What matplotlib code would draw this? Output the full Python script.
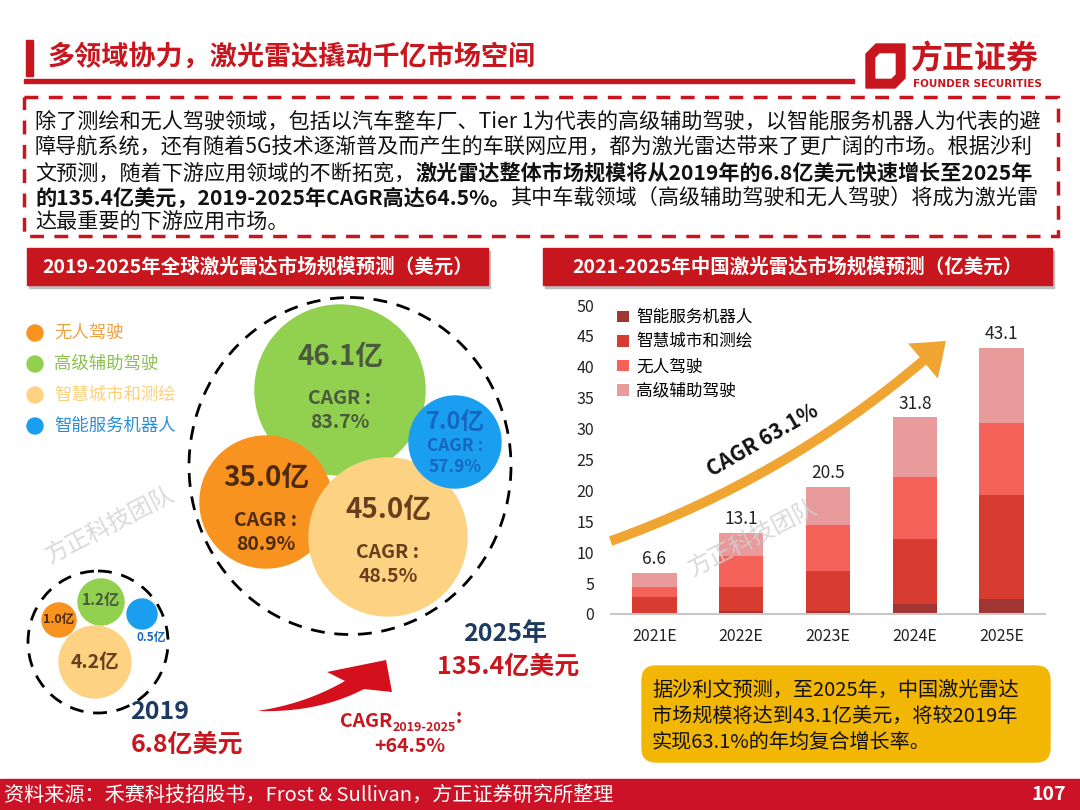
import matplotlib
matplotlib.use('Agg')
import matplotlib.pyplot as plt
from matplotlib.patches import Rectangle, Circle, Ellipse, FancyBboxPatch, FancyArrowPatch, Polygon
import numpy as np

plt.rcParams['font.family'] = ['Noto Sans CJK SC', 'DejaVu Sans']

# 数据
years = ['2021E', '2022E', '2023E', '2024E', '2025E']
robot = [0.1, 0.5, 0.55, 1.6, 2.4]      # 智能服务机器人
city = [2.6, 3.9, 6.45, 10.6, 16.9]     # 智慧城市和测绘
auto = [1.6, 5.0, 7.4, 10.0, 11.6]      # 无人驾驶
adas = [2.3, 3.7, 6.1, 9.6, 12.2]       # 高级辅助驾驶
totals = [6.6, 13.1, 20.5, 31.8, 43.1]
series_names = ['智能服务机器人', '智慧城市和测绘', '无人驾驶', '高级辅助驾驶']
series_colors = ['#a03533', '#d83b2f', '#f4625a', '#e99a9a']

seg_names = ['无人驾驶', '高级辅助驾驶', '智慧城市和测绘', '智能服务机器人']
seg_2025 = ['35.0亿', '46.1亿', '45.0亿', '7.0亿']
seg_cagr = ['80.9%', '83.7%', '48.5%', '57.9%']
seg_2019 = ['1.0亿', '1.2亿', '4.2亿', '0.5亿']

RED = '#c8161e'
NAVY = '#1f3a5f'

fig = plt.figure(figsize=(10.8, 8.1), dpi=100)
bg = fig.add_axes([0, 0, 1, 1])
bg.set_xlim(0, 1080)
bg.set_ylim(810, 0)
bg.axis('off')

# ---- 标题 ----
bg.add_patch(Rectangle((26, 40), 7, 36, color=RED))
bg.text(48, 57, '多领域协力，激光雷达撬动千亿市场空间', color=RED, fontsize=19.5,
        fontweight='bold', va='center', ha='left')
bg.add_patch(Rectangle((24, 79), 830, 4, color=RED))

# logo
bg.add_patch(Polygon([(866, 54), (876, 44), (905, 44), (905, 78), (895, 88), (866, 88)],
                     closed=True, color=RED))
bg.add_patch(Polygon([(876, 58), (880, 54), (895, 54), (895, 74), (891, 78), (876, 78)],
                     closed=True, color='white'))
bg.text(911, 60, '方正证券', color=RED, fontsize=23, fontweight='bold', va='center', ha='left')
bg.text(913, 84, 'FOUNDER SECURITIES', color=RED, fontsize=7.5, fontweight='bold',
        va='center', ha='left', family=['DejaVu Sans'])

# ---- 文字框 ----
bg.add_patch(Rectangle((24, 97), 1034, 139, fill=False, edgecolor=RED, lw=2.5,
                       linestyle=(0, (4, 3))))


def put_line(x, y, segs, size=15.2, color='#111111'):
    t = bg.text(x, y, segs[0][0], fontsize=size, color=color, va='bottom', ha='left',
                fontweight='bold' if segs[0][1] else 'normal')
    for s, b in segs[1:]:
        t = bg.annotate(s, xy=(1, 0), xycoords=t, fontsize=size, color=color,
                        va='bottom', ha='left', fontweight='bold' if b else 'normal')
    return t


lines = [
    [('除了测绘和无人驾驶领域，包括以汽车整车厂、Tier 1为代表的高级辅助驾驶，以智能服务机器人为代表的避', False)],
    [('障导航系统，还有随着5G技术逐渐普及而产生的车联网应用，都为激光雷达带来了更广阔的市场。根据沙利', False)],
    [('文预测，随着下游应用领域的不断拓宽，', False),
     ('激光雷达整体市场规模将从2019年的6.8亿美元快速增长至2025年', True)],
    [('的135.4亿美元，2019-2025年CAGR高达64.5%。', True),
     ('其中车载领域（高级辅助驾驶和无人驾驶）将成为激光雷', False)],
    [('达最重要的下游应用市场。', False)],
]
for i, segs in enumerate(lines):
    put_line(35, 134 + i * 25, segs)

# ---- 小标题 ----
for x0, w, txt in [(27, 461, '2019-2025年全球激光雷达市场规模预测（美元）'),
                   (543, 509, '2021-2025年中国激光雷达市场规模预测（亿美元）')]:
    bg.add_patch(Rectangle((x0 + 2, 251), w, 37, color='#bdbdbd'))
    bg.add_patch(Rectangle((x0, 248), w, 37, color=RED))
    bg.text(x0 + w / 2, 267, txt, color='white', fontsize=14, fontweight='bold',
            ha='center', va='center')

# ---- 左侧气泡图 ----
bub_colors = ['#f7931e', '#92d050', '#fdd383', '#1a9ef0']
leg_text_colors = ['#f0a040', '#8cc152', '#fcd17e', '#2a8fd8']
for i, (nm, c, tc) in enumerate(zip(seg_names, bub_colors, leg_text_colors)):
    y = 333 + i * 31
    bg.add_patch(Circle((35, y), 8, color=c))
    bg.text(54, y, nm, color=tc, fontsize=12.5, va='center', ha='left')

bg.add_patch(Ellipse((350, 466), 322, 337, fill=False, edgecolor='black', lw=2,
                     linestyle=(0, (5, 3.5))))
# 2025 气泡: 无人驾驶, 高级辅助驾驶, 智慧城市, 机器人
big = [((266, 502), 66), ((340, 390), 85), ((388, 537), 79), ((455, 442), 46)]
txt_cols = ['#4e2a10', '#4a5a3c', '#6b3d1d', '#1766c2']
draw_order = [1, 0, 2, 3]
for k in draw_order:
    (cx, cy), r = big[k]
    bg.add_patch(Circle((cx, cy), r, color=bub_colors[k], zorder=2))
for k in range(4):
    (cx, cy), r = big[k]
    if k == 3:
        bg.text(cx, cy - 20, seg_2025[k], color=txt_cols[k], fontsize=17, fontweight='bold',
                ha='center', va='center', zorder=3)
        bg.text(cx, cy + 4, 'CAGR :', color=txt_cols[k], fontsize=12.5, fontweight='bold',
                ha='center', va='center', zorder=3)
        bg.text(cx, cy + 25, seg_cagr[k], color=txt_cols[k], fontsize=12.5, fontweight='bold',
                ha='center', va='center', zorder=3)
    else:
        dy = [-24, -33, -27][k]
        bg.text(cx, cy + dy, seg_2025[k], color=txt_cols[k], fontsize=20, fontweight='bold',
                ha='center', va='center', zorder=3)
        bg.text(cx, cy + dy + 42, 'CAGR :', color=txt_cols[k], fontsize=14, fontweight='bold',
                ha='center', va='center', zorder=3)
        bg.text(cx, cy + dy + 66, seg_cagr[k], color=txt_cols[k], fontsize=14, fontweight='bold',
                ha='center', va='center', zorder=3)

# 2019 小气泡
bg.add_patch(Ellipse((98, 642), 140, 142, fill=False, edgecolor='black', lw=2,
                     linestyle=(0, (5, 3.5))))
small = [((59, 620), 17), ((101, 602), 23), ((95, 662), 36), ((142, 614), 15)]
for k in range(4):
    (cx, cy), r = small[k]
    bg.add_patch(Circle((cx, cy), r, color=bub_colors[k], zorder=2))
bg.text(59, 620, seg_2019[0], color='#4e2a10', fontsize=9, fontweight='bold',
        ha='center', va='center', zorder=3)
bg.text(101, 600, seg_2019[1], color='#4a5a3c', fontsize=11, fontweight='bold',
        ha='center', va='center', zorder=3)
bg.text(95, 662, seg_2019[2], color='#6b3d1d', fontsize=14, fontweight='bold',
        ha='center', va='center', zorder=3)
bg.text(151, 637, seg_2019[3], color='#1766c2', fontsize=8.5, fontweight='bold',
        ha='center', va='center', zorder=3)

bg.text(160, 712, '2019', color=NAVY, fontsize=18, fontweight='bold', ha='center', va='center')
bg.text(187, 745, '6.8亿美元', color=RED, fontsize=18, fontweight='bold', ha='center', va='center')
bg.text(505, 634, '2025年', color=NAVY, fontsize=18, fontweight='bold', ha='center', va='center')
bg.text(508, 667, '135.4亿美元', color=RED, fontsize=18, fontweight='bold', ha='center', va='center')


# 红色弯箭头
def qbez(p0, p1, p2, n=20):
    s = np.linspace(0, 1, n)[:, None]
    return (1 - s) ** 2 * np.array(p0) + 2 * (1 - s) * s * np.array(p1) + s ** 2 * np.array(p2)


upper = qbez((257, 711), (305, 704), (345, 681))
lower = qbez((364, 689), (318, 713), (257, 711))
arrow_pts = np.vstack([upper, [(327, 672), (386, 660), (392, 692)], lower])
bg.add_patch(Polygon(arrow_pts, closed=True, color='#d4101c', lw=0))

t = bg.text(340, 731, 'CAGR', color=RED, fontsize=14, fontweight='bold', ha='left', va='bottom')
t = bg.annotate('2019-2025', xy=(1, 0), xycoords=t, xytext=(0, -2), textcoords='offset points',
                color=RED, fontsize=9, fontweight='bold', ha='left', va='bottom')
bg.annotate(':', xy=(1, 0.5), xycoords=t, color=RED, fontsize=14, fontweight='bold',
            ha='left', va='bottom')
bg.text(410, 747, '+64.5%', color=RED, fontsize=14, fontweight='bold', ha='center', va='center')

bg.text(110, 525, '方正科技团队', color='#dadada', fontsize=17, rotation=27,
        ha='center', va='center', zorder=1)

# ---- 右侧柱状图 ----
ax = fig.add_axes([611 / 1080, 196 / 810, 434 / 1080, 309 / 810])
ax.patch.set_alpha(0)
x = np.arange(len(years))
bottom = np.zeros(len(years))
for vals, nm, c in zip([robot, city, auto, adas], series_names, series_colors):
    ax.bar(x, vals, width=0.51, bottom=bottom, color=c, label=nm, zorder=2)
    bottom += np.array(vals)
for xi, tv in zip(x, totals):
    ax.text(xi, tv + 0.8, f'{tv}', ha='center', va='bottom', fontsize=12.5, color='#222222')
ax.set_xlim(-0.5, 4.5)
ax.set_ylim(0, 50)
ax.set_yticks(range(0, 51, 5))
ax.set_xticks(x)
ax.set_xticklabels(years)
ax.tick_params(axis='both', length=0, labelsize=11.5, colors='#222222')
ax.tick_params(axis='y', pad=12)
ax.tick_params(axis='x', pad=10)
for s in ['top', 'right', 'left']:
    ax.spines[s].set_visible(False)
ax.spines['bottom'].set_color('#c8c8c8')
ax.spines['bottom'].set_linewidth(1.5)
ax.legend(loc='upper left', bbox_to_anchor=(-0.02, 1.035), frameon=False, fontsize=12,
          handlelength=0.7, handleheight=0.7, handletextpad=0.45, labelspacing=0.45)

# 覆盖层：CAGR 箭头与水印
ov = fig.add_axes([0, 0, 1, 1])
ov.set_xlim(0, 1080)
ov.set_ylim(810, 0)
ov.axis('off')
ov.patch.set_alpha(0)
ov.add_artist(FancyArrowPatch((608, 542), (948, 339), connectionstyle='arc3,rad=0.1',
                              arrowstyle='simple,head_length=1.0,head_width=1.5,tail_width=0.32',
                              mutation_scale=22, color='#f0a431', lw=0))
ov.text(763, 440, 'CAGR 63.1%', color='#111111', fontsize=15, fontweight='bold', rotation=30,
        ha='center', va='center')
ov.text(753, 538, '方正科技团队', color='#d0d0d0', fontsize=17, rotation=27,
        ha='center', va='center', alpha=0.8)

# 黄色说明框
ov.add_patch(FancyBboxPatch((646, 670), 400, 88, boxstyle='round,pad=4,rounding_size=14',
                            color='#f2b705'))
for i, s in enumerate(['据沙利文预测，至2025年，中国激光雷达',
                       '市场规模将达到43.1亿美元，将较2019年',
                       '实现63.1%的年均复合增长率。']):
    ov.text(652, 690 + i * 26, s, fontsize=14.5, color='#111111', ha='left', va='center')

# 页脚
ov.add_patch(Rectangle((0, 779), 1080, 31, color='#cc1226'))
ov.text(4, 795, '资料来源：禾赛科技招股书，Frost & Sullivan，方正证券研究所整理', color='white',
        fontsize=14.5, ha='left', va='center')
ov.text(1066, 794, '107', color='white', fontsize=14, fontweight='bold', ha='right', va='center')

fig.savefig('out.png', dpi=100)
